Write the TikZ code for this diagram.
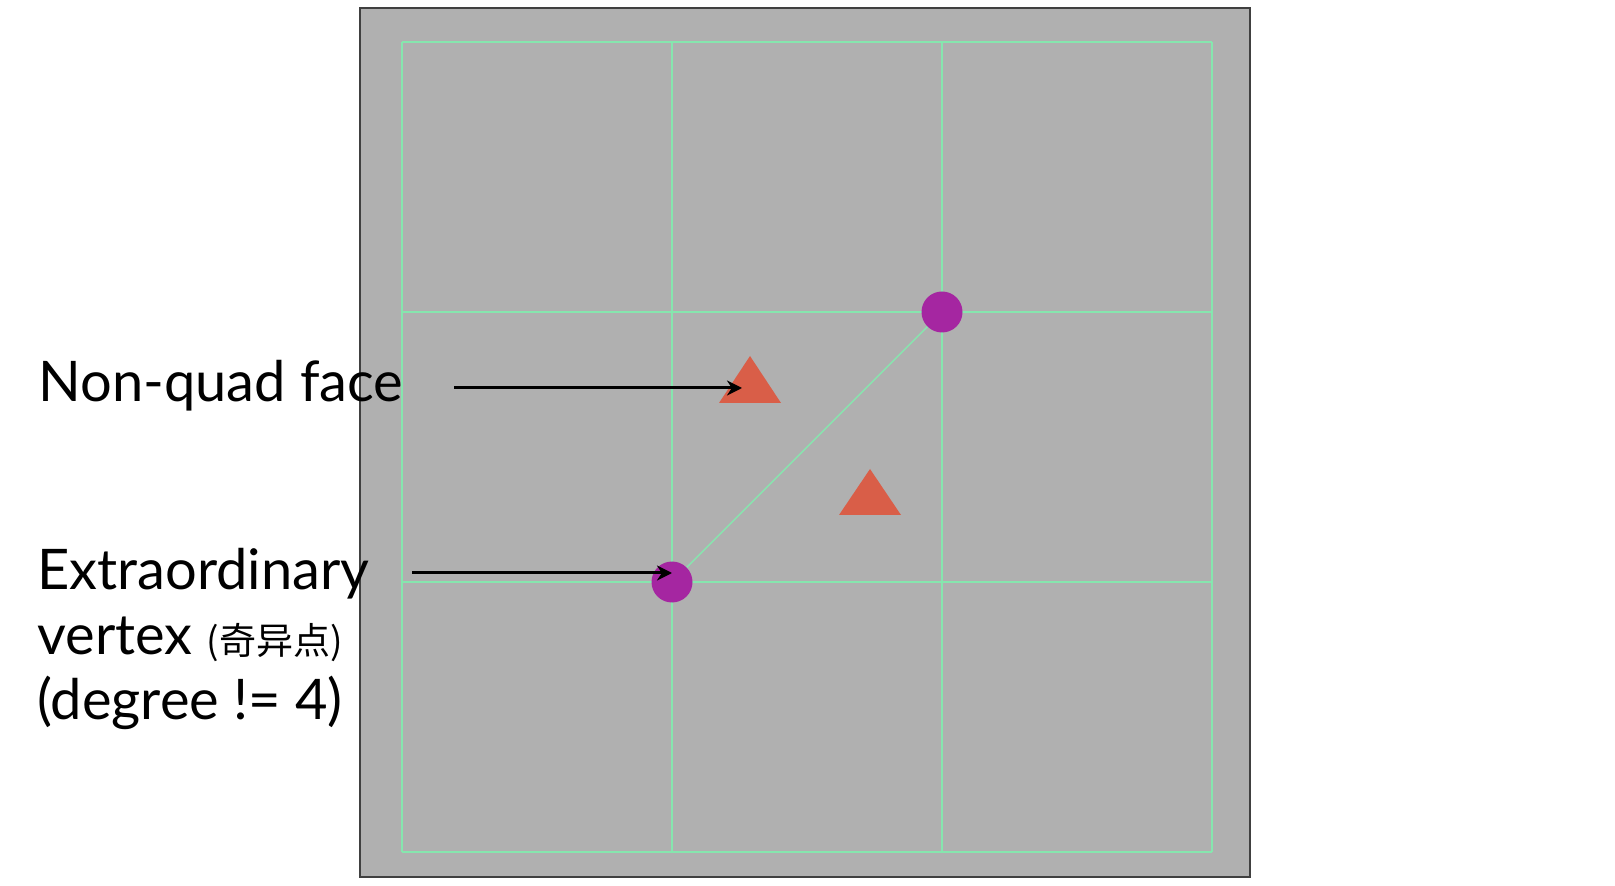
\documentclass[tikz,border=0pt]{standalone}
\usepackage{fontspec}
\setmainfont{Lato}
\newfontfamily\cjk{Noto Sans CJK SC}
\usetikzlibrary{arrows.meta}
\definecolor{PanelGray}{HTML}{B0B0B0}
\definecolor{MeshGreen}{HTML}{86E6AE}
\definecolor{FaceRed}{HTML}{D95E48}
\definecolor{VertPurple}{HTML}{A526A1}

\begin{document}
\begin{tikzpicture}[x=0.5pt, y=-0.5pt,
  mesh/.style={MeshGreen, line width=1pt},
  pointer/.style={-{Stealth[length=7.5pt, width=7.5pt]}, line width=1.5pt, black},
  label/.style={anchor=base west, inner sep=0pt, font=\fontsize{28}{32.5}\selectfont, align=left}]
  \useasboundingbox (0,0) rectangle (1615,886);
  % panel
  \fill[PanelGray] (360,8) rectangle (1250,877);
  \draw[black!75, line width=0.6pt] (360,8) rectangle (1250,877);
  % quad grid
  \foreach \t in {402,672,942,1212} {
    \draw[mesh] (\t,42) -- (\t,852);
    \draw[mesh] (402,\t-360) -- (1212,\t-360);
  }
  % vertices and the split edge
  \coordinate (vlow) at (672,582);
  \coordinate (vhigh) at (942,312);
  \draw[MeshGreen, line width=0.7pt] (vlow) -- (vhigh);
  \node[circle, fill=VertPurple, minimum size=20.5pt, inner sep=0pt] (evlow) at (vlow) {};
  \node[circle, fill=VertPurple, minimum size=20.5pt, inner sep=0pt] (evhigh) at (vhigh) {};
  % the two triangles
  \fill[FaceRed] (719,403) -- (750,356) -- (781,403) -- cycle;
  \fill[FaceRed] (839,515) -- (870,469) -- (901,515) -- cycle;
  % labels
  \node[label] (facelbl) at (38,402) {Non-quad face};
  \node[label] (vertlbl) at (37,719) {Extraordinary\\vertex {\cjk\fontsize{18.5}{20}\selectfont (奇异点)}\\(degree != 4)};
  \coordinate (facefrom) at (454,388);
  \coordinate (faceto) at (742,388);
  \coordinate (vertfrom) at (412,573);
  \coordinate (vertto) at (672,573);
  \draw[pointer] (facefrom) -- (faceto);
  \draw[pointer] (vertfrom) -- (vertto);
\end{tikzpicture}
\end{document}
